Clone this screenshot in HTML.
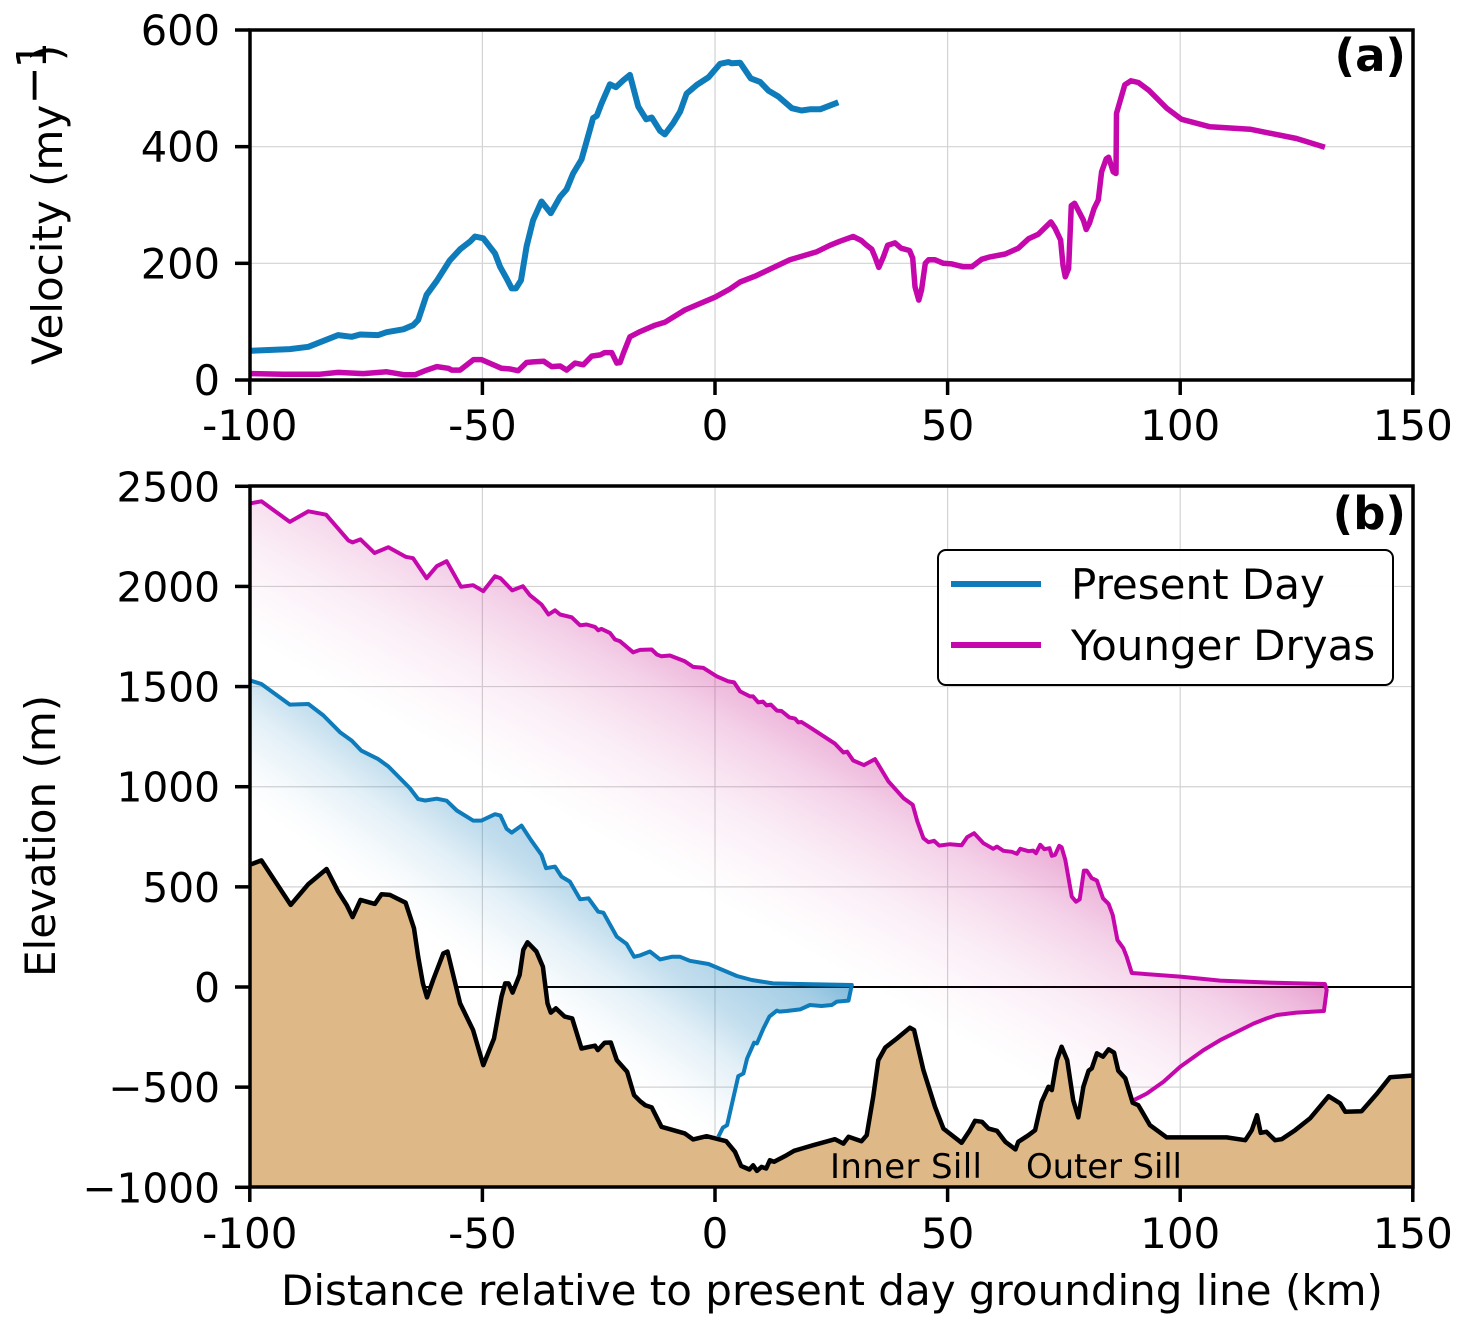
<!DOCTYPE html>
<html lang="en">
<head>
<meta charset="utf-8">
<title>Velocity and elevation profile</title>
<style>
html,body{margin:0;padding:0;background:#fff;}
svg{display:block;font-family:"DejaVu Sans","Liberation Sans",sans-serif;}
</style>
</head>
<body>
<svg id="chart" xmlns="http://www.w3.org/2000/svg" width="1465" height="1327" viewBox="0 0 1465 1327">
  <defs>
    <linearGradient id="ydGrad" gradientUnits="userSpaceOnUse" x1="250" y1="640" x2="378" y2="412">
      <stop offset="0" stop-color="#c40a85" stop-opacity="0"/>
      <stop offset="0.12" stop-color="#c40a85" stop-opacity="0.02"/>
      <stop offset="0.33" stop-color="#c40a85" stop-opacity="0.07"/>
      <stop offset="0.47" stop-color="#c40a85" stop-opacity="0.125"/>
      <stop offset="0.6" stop-color="#c40a85" stop-opacity="0.185"/>
      <stop offset="0.74" stop-color="#c40a85" stop-opacity="0.28"/>
      <stop offset="0.86" stop-color="#c40a85" stop-opacity="0.385"/>
      <stop offset="1" stop-color="#c40a85" stop-opacity="0.5"/>
    </linearGradient>
    <linearGradient id="pdGrad" gradientUnits="userSpaceOnUse" x1="250" y1="804" x2="398" y2="601">
      <stop offset="0" stop-color="#0e7bba" stop-opacity="0"/>
      <stop offset="0.12" stop-color="#0e7bba" stop-opacity="0.03"/>
      <stop offset="0.3" stop-color="#0e7bba" stop-opacity="0.12"/>
      <stop offset="0.45" stop-color="#0e7bba" stop-opacity="0.25"/>
      <stop offset="0.7" stop-color="#0e7bba" stop-opacity="0.38"/>
      <stop offset="0.84" stop-color="#0e7bba" stop-opacity="0.54"/>
      <stop offset="1" stop-color="#0e7bba" stop-opacity="0.65"/>
    </linearGradient>
    <clipPath id="clipB"><rect x="250" y="486" width="1163" height="701"/></clipPath>
  </defs>
  <g id="gridA"></g>
  <g id="gridB"></g>
  <g id="marksA"></g>
  <g id="marksB" clip-path="url(#clipB)"></g>

  <text x="830" y="1178" font-size="34" textLength="152" fill="#000">Inner Sill</text>
  <text x="1026" y="1178" font-size="34" textLength="156" fill="#000">Outer Sill</text>

  <rect x="250" y="30" width="1163" height="350" fill="none" stroke="#000" stroke-width="3.5"/>
  <rect x="250" y="486" width="1163" height="701" fill="none" stroke="#000" stroke-width="3.5"/>
  <g id="axesA"></g>
  <g id="axesB"></g>

  <text x="1406" y="71" font-size="45" font-weight="bold" text-anchor="end" fill="#000">(a)</text>
  <text x="1406" y="529" font-size="45" font-weight="bold" text-anchor="end" fill="#000">(b)</text>

  <text transform="translate(62,365) rotate(-90)" font-size="42" fill="#000">Velocity (my<tspan dy="-13" font-size="46">−</tspan><tspan dx="-2" dy="-3" font-size="41">1</tspan><tspan dy="16" dx="-19">)</tspan></text>
  <text transform="translate(55,977) rotate(-90)" font-size="42" fill="#000">Elevation (m)</text>
  <text x="281" y="1305" font-size="42" fill="#000">Distance relative to present day grounding line (km)</text>

  <g>
    <rect x="938" y="550" width="455" height="135" rx="8" ry="8" fill="#fff" fill-opacity="0.95" stroke="#000" stroke-width="2"/>
    <line x1="951" y1="584" x2="1041" y2="584" stroke="#0e7bba" stroke-width="6"/>
    <text x="1071" y="599" font-size="42" fill="#000">Present Day</text>
    <line x1="951" y1="645" x2="1041" y2="645" stroke="#c508ac" stroke-width="6"/>
    <text x="1071" y="660" font-size="42" fill="#000">Younger Dryas</text>
  </g>
</svg>
<script>
const xTicks = [-100, -50, 0, 50, 100, 150];
const xTickLabels = ['-100', '-50', '0', '50', '100', '150'];
const velocityTicks = [0, 200, 400, 600];
const velocityTickLabels = ['0', '200', '400', '600'];
const elevationTicks = [-1000, -500, 0, 500, 1000, 1500, 2000, 2500];
const elevationTickLabels = ['\u22121000', '\u2212500', '0', '500', '1000', '1500', '2000', '2500'];

const velPresentKm = [-99.8,-91.4,-87.4,-81,-78.1,-76.3,-72.4,-70.6,-67,-64.9,-63.8,-62,-59.8,-57,-54.8,-52.7,-51.6,-49.8,-47.3,-46.2,-44.8,-43.7,-42.8,-41.7,-40.5,-39.1,-37.3,-35.3,-33.3,-31.9,-30.5,-28.7,-26.9,-26.2,-25.4,-24.4,-22.6,-21.3,-19.7,-18.3,-16.5,-14.8,-13.6,-11.8,-10.8,-9,-7.5,-6.1,-3.9,-1.4,1.1,2.9,3.6,5.4,7.7,9.7,11.5,13.6,16.5,18.6,20.4,22.6,26.5];
const velPresentValues = [50,53,57,77,74,78,77,82,87,94,103,146,170,205,224,237,246,243,217,194,174,157,157,171,229,274,306,286,314,327,354,378,429,449,453,474,507,502,514,523,469,447,450,427,421,440,460,491,506,519,542,545,543,544,517,511,496,486,466,462,464,464,476];

const velDryasKm = [-99.8,-92.8,-84.9,-81,-75.6,-70.6,-66.7,-64.5,-62,-59.8,-57.3,-56.6,-54.8,-51.9,-50.2,-45.9,-44.1,-42.3,-40.5,-39.1,-36.8,-35.1,-33.3,-31.9,-30.1,-28.3,-26.5,-24.7,-23.7,-22.2,-21.1,-20.4,-19.7,-18.3,-16.1,-12.9,-10.8,-6.5,0,3.2,5.4,8.6,12.9,16.1,21.9,24.7,26.9,29.7,31.5,32.3,33.7,34.4,35.2,36.2,37.1,38.7,40,41.8,42.5,43,43.8,44.4,45.2,45.9,47.3,49.1,50.9,53.4,55.2,57.3,59.1,62.4,65.2,67.4,69.5,72.2,73.1,74.3,74.8,75.3,76,76.6,77.3,79.2,79.8,80.5,81.5,82.4,83.1,84.1,84.6,85.6,86.2,86.3,88.1,89.4,91,93.2,97.1,100.3,106.4,115,125,131.1];
const velDryasValues = [11,10,10,13,11,14,9,9,17,23,20,17,17,35,35,20,19,16,30,31,32,23,24,17,29,26,41,43,47,47,29,30,46,74,83,94,99,120,142,156,168,178,194,206,220,231,238,246,239,233,224,211,193,211,231,235,226,222,209,160,137,154,200,206,206,200,199,194,194,207,211,216,226,242,250,271,260,240,197,177,191,299,303,274,258,269,294,309,357,379,382,357,354,457,506,513,510,497,466,447,434,430,414,399];

const presentOutlineKm = [-99.8,-97.5,-91.4,-87.4,-84.2,-80.6,-78.1,-76,-72.4,-70.2,-65.6,-63.8,-62.3,-59.8,-57.7,-55.5,-52,-50.2,-47.3,-46.1,-44.8,-43.7,-41.6,-39.6,-37.3,-36.3,-34.4,-33,-31.2,-29,-27.2,-25.1,-24,-21.1,-19,-17.4,-16.1,-14,-11.8,-9.3,-7.5,-5.4,-1.4,4.7,7.9,12.5,18.3,29.4,28.7,26.2,25.1,22.9,20.4,18.3,15.4,13.8,13.3,11.7,10.4,9,8.4,6.9,6.1,5,2.6,1.7,0.7];
const presentOutlineElev = [1530,1513,1410,1413,1356,1272,1230,1180,1138,1101,993,938,931,940,930,881,831,831,863,856,790,771,806,735,660,593,601,551,526,438,443,376,371,251,215,151,158,177,138,151,151,131,115,55,35,18,15,10,-68,-73,-90,-95,-90,-112,-120,-123,-118,-148,-207,-282,-278,-357,-432,-445,-690,-702,-748];

const dryasOutlineKm = [-99.8,-97.5,-91.4,-87.4,-83.6,-78.8,-77.9,-76.2,-73.2,-70.2,-66.5,-64.9,-62,-59.8,-57.7,-54.6,-52,-49.8,-47.3,-46.1,-43.6,-41.3,-39.8,-37.3,-35.8,-34.4,-33.3,-30.8,-29,-27.6,-25.8,-25.1,-24.4,-22.6,-21.5,-20.4,-17.6,-16.1,-13.6,-12.5,-11.5,-9.7,-6.5,-4.7,-2.5,0.4,2.9,4.1,5.4,7.5,8.2,9.3,10.3,11.1,12,13.3,14.3,16,17.2,17.9,18.6,20.8,25.8,27.6,28.4,29.7,32,34.4,37.3,40.5,42.5,43.5,44.8,45.9,47.1,48.2,50.5,53,54.2,55.7,57.7,59.8,60.6,62,63.8,64.9,65.6,67.4,68.4,69,69.9,70.8,71.9,72.4,73.1,74,74.5,75.3,76.7,77.6,78.4,79.3,79.9,81,82.1,83.4,84.6,85.5,86.5,87.8,88.5,89.6,100,108.6,119.3,131.1,131.5,130.9,125,120.8,118.6,115.8,108.6,105,100,96.4,92.8,90];
const dryasOutlineElev = [2415,2425,2322,2375,2358,2230,2220,2235,2167,2196,2148,2141,2041,2101,2126,1998,2006,1976,2051,2041,1980,2001,1956,1910,1860,1881,1860,1846,1806,1810,1798,1781,1788,1768,1735,1726,1671,1683,1685,1660,1651,1655,1626,1598,1593,1551,1526,1521,1476,1451,1451,1421,1425,1406,1410,1380,1378,1346,1340,1321,1323,1290,1215,1171,1175,1131,1108,1138,1026,943,910,826,743,723,730,706,713,708,748,768,718,690,701,680,675,665,690,678,681,668,710,688,693,655,660,705,698,635,451,426,438,581,581,543,531,443,415,360,235,193,151,70,52,32,22,15,-15,-120,-128,-140,-157,-182,-265,-315,-398,-473,-532,-565];

const bedKm = [-100,-97.5,-91.2,-87.4,-83.5,-81,-79.2,-77.9,-76.2,-73.1,-71.7,-69.9,-66.5,-64.7,-63.8,-62.8,-61.9,-60.6,-58.4,-57.5,-56.2,-54.8,-52,-49.8,-47.5,-45.9,-45.1,-44.4,-43.5,-42,-41.2,-40.3,-38.4,-37,-36,-35.3,-34.2,-32.3,-30.7,-28.7,-25.8,-25.2,-23.7,-22.4,-21.1,-18.9,-17.4,-16.1,-15,-13.6,-11.5,-9.7,-6.5,-4.7,-1.8,2.4,4.3,5.6,7.4,8.2,9,10,11,11.8,12.7,15.4,17,18.6,21.1,25.8,27.6,28.7,31.5,32.6,34,35.1,36.6,39.1,41.9,42.8,44.8,47.3,49.1,53,54.8,55.9,57.4,58.8,60.6,62.4,64.6,65.2,67.4,68.8,70.2,71.7,72.4,73.5,74.5,75.7,77,78.1,79.2,80.3,81,82.1,83.4,84.6,85.8,86.7,88.2,89.8,91,93.5,97.1,110,114,115.4,116.5,117.3,118.5,120.4,121.8,124.7,127.9,131.9,134.4,135.5,139,142.3,145.1,150];
const bedElev = [610,632,410,514,589,476,410,349,435,415,463,460,421,293,151,18,-52,35,168,177,52,-82,-215,-390,-257,-48,18,18,-28,60,185,223,177,101,-82,-128,-107,-148,-157,-307,-293,-315,-278,-277,-365,-423,-540,-570,-590,-601,-698,-710,-731,-761,-745,-770,-823,-893,-911,-890,-918,-898,-906,-865,-873,-840,-818,-807,-790,-760,-782,-748,-770,-740,-548,-365,-302,-257,-203,-215,-415,-598,-707,-778,-715,-668,-673,-707,-718,-773,-811,-773,-740,-715,-573,-498,-515,-365,-298,-365,-565,-651,-498,-418,-406,-331,-348,-311,-328,-418,-456,-578,-590,-690,-751,-751,-765,-715,-640,-728,-723,-765,-760,-715,-656,-545,-581,-623,-620,-532,-451,-442];

const xScale = km => 715 + km * 4.652;
const yScaleA = v => 380 - v * (350 / 600);
const yScaleB = m => 987 - m * (701 / 3500);
const SVG_NS = 'http://www.w3.org/2000/svg';

function make(tag, parentId, attrs, text) {
  const el = document.createElementNS(SVG_NS, tag);
  for (const k in attrs) el.setAttribute(k, attrs[k]);
  if (text !== undefined) el.textContent = text;
  document.getElementById(parentId).appendChild(el);
  return el;
}
function pts(xs, ys, yScale) {
  return xs.map((x, i) => xScale(x).toFixed(1) + ',' + yScale(ys[i]).toFixed(1)).join(' ');
}

function drawAxes(gridId, axesId, yVals, yLabels, yScale, top, bottom, xLabelBase, yFontSize) {
  xTicks.forEach((t, i) => {
    const x = xScale(t);
    const g = make('line', gridId, {x1: x, x2: x, y1: top, y2: bottom, stroke: '#d3d3d3', 'stroke-width': 1.2});
    
    
    const m = make('line', axesId, {x1: x, x2: x, y1: bottom, y2: bottom + 15, stroke: '#000', 'stroke-width': 3.5});
    
    
    const l = make('text', axesId, {x: x, y: xLabelBase, 'font-size': 42, 'text-anchor': 'middle', fill: '#000'}, xTickLabels[i]);
    
    
  });
  yVals.forEach((t, i) => {
    const y = yScale(t);
    const g = make('line', gridId, {x1: 250, x2: 1413, y1: y, y2: y, stroke: '#d3d3d3', 'stroke-width': 1.2});
    
    
    const m = make('line', axesId, {x1: 235, x2: 250, y1: y, y2: y, stroke: '#000', 'stroke-width': 3.5});
    
    
    const l = make('text', axesId, {x: 220, y: y + 15, 'font-size': yFontSize, 'text-anchor': 'end', fill: '#000'}, yLabels[i]);
    
    
  });
}

drawAxes('gridA', 'axesA', velocityTicks, velocityTickLabels, yScaleA, 30, 380, 440, 41.5);
drawAxes('gridB', 'axesB', elevationTicks, elevationTickLabels, yScaleB, 486, 1187, 1248, 40.7);

const lineStyle = {fill: 'none', 'stroke-linejoin': 'round', 'stroke-linecap': 'butt'};

const velP = make('polyline', 'marksA', Object.assign({points: pts(velPresentKm, velPresentValues, yScaleA), stroke: '#0e7bba', 'stroke-width': 6}, lineStyle));


const velD = make('polyline', 'marksA', Object.assign({points: pts(velDryasKm, velDryasValues, yScaleA), stroke: '#c508ac', 'stroke-width': 5.5}, lineStyle));



const zero = make('line', 'marksB', {x1: xScale(-100), x2: xScale(150), y1: yScaleB(0), y2: yScaleB(0), stroke: '#000', 'stroke-width': 2});



const floorKmD = dryasOutlineKm[dryasOutlineKm.length - 1];
const fillD = make('polygon', 'marksB', {points: pts(dryasOutlineKm, dryasOutlineElev, yScaleB) + ' ' + xScale(floorKmD) + ',' + yScaleB(-1000) + ' ' + xScale(-100) + ',' + yScaleB(-1000) + ' ' + xScale(-100) + ',' + yScaleB(dryasOutlineElev[0]), fill: 'url(#ydGrad)'});



const floorKmP = presentOutlineKm[presentOutlineKm.length - 1];
const fillP = make('polygon', 'marksB', {points: pts(presentOutlineKm, presentOutlineElev, yScaleB) + ' ' + xScale(floorKmP) + ',' + yScaleB(-1000) + ' ' + xScale(-100) + ',' + yScaleB(-1000) + ' ' + xScale(-100) + ',' + yScaleB(presentOutlineElev[0]), fill: 'url(#pdGrad)'});



const lineD = make('polyline', 'marksB', Object.assign({points: pts(dryasOutlineKm, dryasOutlineElev, yScaleB), stroke: '#c508ac', 'stroke-width': 4}, lineStyle));


const lineP = make('polyline', 'marksB', Object.assign({points: pts(presentOutlineKm, presentOutlineElev, yScaleB), stroke: '#0e7bba', 'stroke-width': 4}, lineStyle));



const bedFill = make('polygon', 'marksB', {points: pts(bedKm, bedElev, yScaleB) + ' ' + xScale(150) + ',' + yScaleB(-1000) + ' ' + xScale(-100) + ',' + yScaleB(-1000), fill: '#deb887'});


const bedLine = make('polyline', 'marksB', Object.assign({points: pts(bedKm, bedElev, yScaleB), stroke: '#000', 'stroke-width': 4.5}, lineStyle));


</script>
</body>
</html>
